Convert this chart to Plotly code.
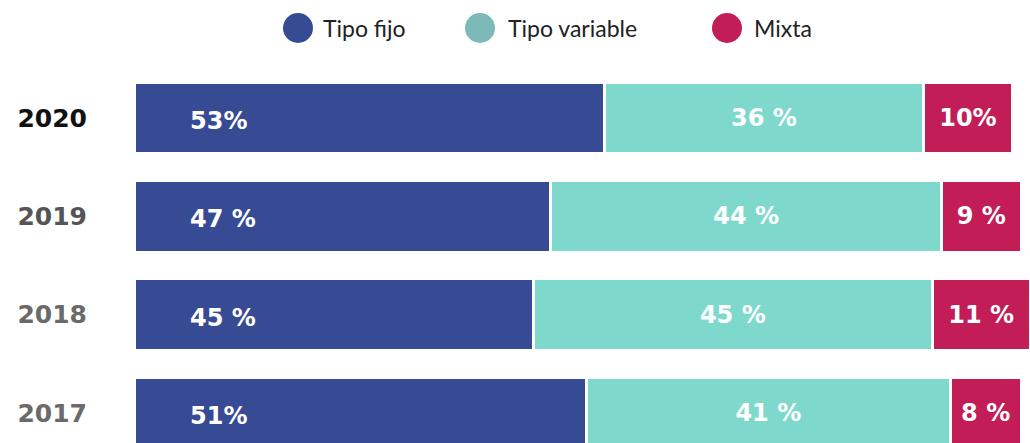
import plotly.graph_objects as go

years = ["2017", "2018", "2019", "2020"]
fijo = [51, 45, 47, 53]
variable = [41, 45, 44, 36]
mixta = [8, 11, 9, 10]
fijo_txt = ["51%", "45 %", "47 %", "53%"]
variable_txt = ["41 %", "45 %", "44 %", "36 %"]
mixta_txt = ["8 %", "11 %", "9 %", "10%"]
series_names = ["Tipo fijo", "Tipo variable", "Mixta"]
bar_colors = ["#374a94", "#7ed9cc", "#c21d57"]
legend_colors = ["#374a94", "#7db9b6", "#c21d57"]
tick_text = [
    "<span style='color:#6a6a6a'>2017</span>",
    "<span style='color:#6a6a6a'>2018</span>",
    "<span style='color:#555555'>2019</span>",
    "<span style='color:#111111'>2020</span>",
]

W, H = 1030, 443
L = 134

fig = go.Figure()
label_font = dict(family="DejaVu Sans", size=24, color="white", weight="bold")

fig.add_trace(go.Bar(y=years, x=fijo, orientation="h", name=series_names[0],
                     marker=dict(color=bar_colors[0], line=dict(color="white", width=3)),
                     showlegend=False, hoverinfo="skip"))
fig.add_trace(go.Bar(y=years, x=variable, orientation="h", name=series_names[1],
                     marker=dict(color=bar_colors[1], line=dict(color="white", width=3)),
                     text=variable_txt, textposition="inside", insidetextanchor="middle",
                     textfont=label_font, showlegend=False, hoverinfo="skip"))
fig.add_trace(go.Bar(y=years, x=mixta, orientation="h", name=series_names[2],
                     marker=dict(color=bar_colors[2], line=dict(color="white", width=3)),
                     text=mixta_txt, textposition="inside", insidetextanchor="middle",
                     textfont=label_font, showlegend=False, hoverinfo="skip"))

annotations = []
for i, t in enumerate(fijo_txt):
    annotations.append(dict(x=0, y=i, xref="x", yref="y", text=t, showarrow=False,
                            xanchor="left", yanchor="middle", xshift=54, yshift=-3,
                            font=label_font))

# custom legend (circles + labels)
pw = W - L
circle_px = [298, 480, 727]
text_px = [321, 506, 752]
shapes = []
for cx, tx, name, col in zip(circle_px, text_px, series_names, legend_colors):
    shapes.append(dict(type="circle", xref="paper", yref="paper",
                       xsizemode="pixel", ysizemode="pixel",
                       xanchor=(cx - L) / pw, yanchor=1 - 28 / H,
                       x0=-15, x1=15, y0=-15, y1=15,
                       fillcolor=col, line=dict(width=0)))
    annotations.append(dict(x=(tx - L) / pw, y=1 - 28 / H, xref="paper", yref="paper",
                            text=name, showarrow=False, xanchor="left", yanchor="middle",
                            font=dict(family="Lato", size=23, color="#222222")))

fig.update_layout(
    width=W, height=H,
    barmode="stack", bargap=0.27,
    margin=dict(l=L, r=0, t=0, b=0),
    paper_bgcolor="white", plot_bgcolor="white",
    shapes=shapes, annotations=annotations,
    xaxis=dict(range=[0, 101], visible=False, fixedrange=True),
    yaxis=dict(type="category", categoryorder="array", categoryarray=years,
               range=[-0.305, 4.2], tickmode="array", tickvals=years, ticktext=tick_text,
               showgrid=False, zeroline=False, showline=False, ticks="",
               ticklabelstandoff=46, fixedrange=True,
               tickfont=dict(family="DejaVu Sans", size=25, color="#555555", weight="bold")),
)

fig.write_html("out.html", config={"displayModeBar": False},
               post_script="document.body.style.margin='0';document.body.style.overflow='hidden';")
